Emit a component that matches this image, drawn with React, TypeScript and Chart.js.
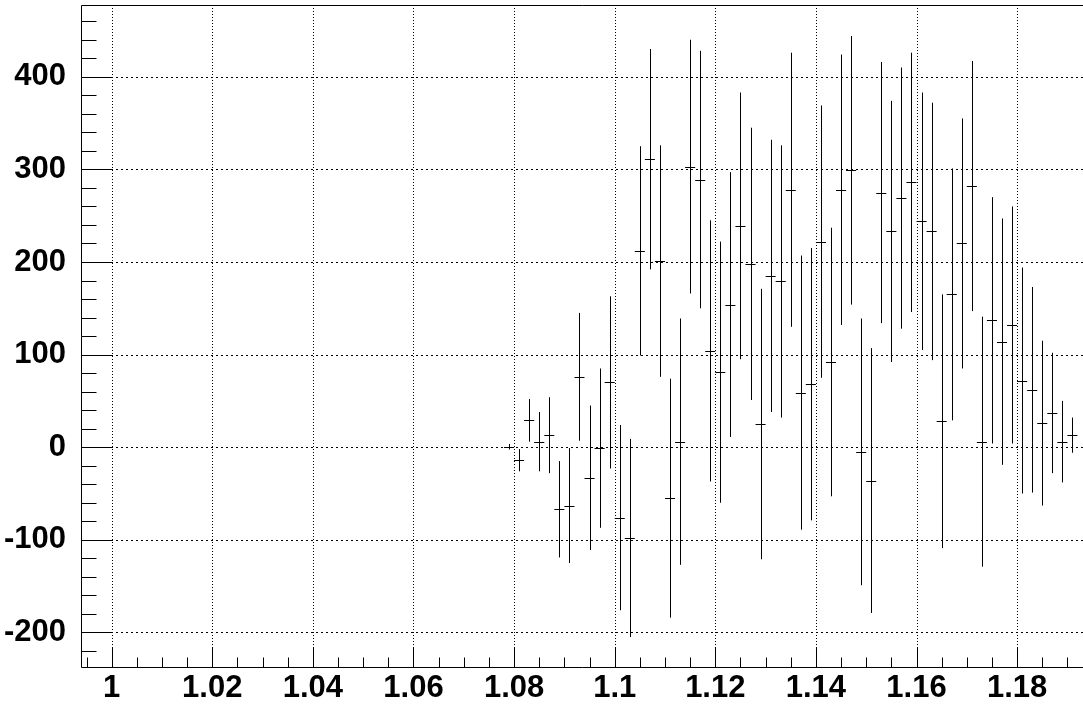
import React, { useEffect, useRef } from "react";
import { Chart, registerables } from "chart.js";

Chart.register(...registerables);

const binCenters = [
  1.079, 1.081, 1.083, 1.085, 1.087, 1.089, 1.091, 1.093, 1.095, 1.097,
  1.099, 1.101, 1.103, 1.105, 1.107, 1.109, 1.111, 1.113, 1.115, 1.117,
  1.119, 1.121, 1.123, 1.125, 1.127, 1.129, 1.131, 1.133, 1.135, 1.137,
  1.139, 1.141, 1.143, 1.145, 1.147, 1.149, 1.151, 1.153, 1.155, 1.157,
  1.159, 1.161, 1.163, 1.165, 1.167, 1.169, 1.171, 1.173, 1.175, 1.177,
  1.179, 1.181, 1.183, 1.185, 1.187, 1.189, 1.191,
];

const counts = [
  0.5, -14, 29, 6, 13, -67, -63, 76, -33, -1,
  70, -76, -98, 212, 311, 201, -55, 6, 303, 289,
  104, 81, 154, 239, 198, 25, 185, 179, 278, 59,
  68, 222, 92, 278, 299, -5, -36, 275, 233, 269,
  286, 244, 233, 28, 165, 220, 282, 6, 137, 114,
  132, 72, 62, 26, 37, 6, 13,
];

const errors = [
  3, 12, 23, 32, 41, 52, 62, 69, 78, 86,
  93, 100, 107, 113, 119, 125, 129, 133, 137, 139,
  141, 141, 143, 144, 147, 146, 147, 147, 148, 148,
  147, 147, 145, 146, 145, 144, 143, 141, 141, 141,
  140, 139, 139, 137, 136, 135, 135, 135, 133, 133,
  128, 122, 111, 89, 65, 44, 19,
];

const binHalfWidth = 0.001;

const xTickValues = [1, 1.02, 1.04, 1.06, 1.08, 1.1, 1.12, 1.14, 1.16, 1.18];
const xTickLabels = ["1", "1.02", "1.04", "1.06", "1.08", "1.1", "1.12", "1.14", "1.16", "1.18"];
const yTickValues = [-200, -100, 0, 100, 200, 300, 400];
const yTickLabels = ["-200", "-100", "0", "100", "200", "300", "400"];

const xMin = 0.9939;
const xMax = 1.1931;
const yMin = -238.4;
const yMax = 477.5;
const xMinorStep = 0.005;
const yMinorStep = 20;

const rootPlugin = {
  id: "rootStyle",
  beforeDatasetsDraw(chart: any) {
    const { ctx, chartArea: a, scales } = chart;
    const x = scales.x;
    const y = scales.y;
    ctx.save();
    ctx.strokeStyle = "#000";
    ctx.lineWidth = 1;
    ctx.setLineDash([1, 2]);
    for (const v of xTickValues) {
      const px = Math.round(x.getPixelForValue(v)) + 0.5;
      ctx.beginPath();
      ctx.moveTo(px, a.top);
      ctx.lineTo(px, a.bottom);
      ctx.stroke();
    }
    ctx.setLineDash([2, 3]);
    for (const v of yTickValues) {
      const py = Math.round(y.getPixelForValue(v)) + 0.5;
      ctx.beginPath();
      ctx.moveTo(a.left, py);
      ctx.lineTo(a.right, py);
      ctx.stroke();
    }
    ctx.restore();
  },
  afterDatasetsDraw(chart: any) {
    const { ctx, chartArea: a, scales } = chart;
    const x = scales.x;
    const y = scales.y;
    ctx.save();
    ctx.strokeStyle = "#000";
    ctx.lineWidth = 1;
    ctx.setLineDash([]);
    for (let i = 0; i < binCenters.length; i++) {
      const c = binCenters[i];
      const px = Math.round(x.getPixelForValue(c)) + 0.5;
      const yc = Math.round(y.getPixelForValue(counts[i])) + 0.5;
      const yt = y.getPixelForValue(counts[i] + errors[i]);
      const yb = y.getPixelForValue(counts[i] - errors[i]);
      ctx.beginPath();
      ctx.moveTo(px, yt);
      ctx.lineTo(px, yb);
      ctx.stroke();
      ctx.beginPath();
      ctx.moveTo(x.getPixelForValue(c - binHalfWidth), yc);
      ctx.lineTo(x.getPixelForValue(c + binHalfWidth), yc);
      ctx.stroke();
    }
    const L = Math.round(a.left) + 0.5;
    const T = Math.round(a.top) + 0.5;
    const B = Math.round(a.bottom) - 0.5;
    ctx.beginPath();
    ctx.moveTo(a.right, T);
    ctx.lineTo(L, T);
    ctx.lineTo(L, B);
    ctx.lineTo(a.right, B);
    ctx.stroke();
    const yMajorLen = 30;
    const yMinorLen = 15;
    const yStart = Math.ceil(yMin / yMinorStep) * yMinorStep;
    for (let v = yStart; v <= yMax; v += yMinorStep) {
      const major = Math.abs(v % 100) < 1e-6;
      const py = Math.round(y.getPixelForValue(v)) + 0.5;
      ctx.beginPath();
      ctx.moveTo(L, py);
      ctx.lineTo(L + (major ? yMajorLen : yMinorLen), py);
      ctx.stroke();
    }
    const xMajorLen = 20;
    const xMinorLen = 10;
    const nStart = Math.ceil(xMin / xMinorStep - 1e-9);
    const nEnd = Math.floor(xMax / xMinorStep + 1e-9);
    for (let n = nStart; n <= nEnd; n++) {
      const v = n * xMinorStep;
      const major = n % 4 === 0;
      const px = Math.round(x.getPixelForValue(v)) + 0.5;
      ctx.beginPath();
      ctx.moveTo(px, B);
      ctx.lineTo(px, B - (major ? xMajorLen : xMinorLen));
      ctx.stroke();
    }
    ctx.restore();
  },
};

export default function App() {
  const canvasRef = useRef<HTMLCanvasElement | null>(null);

  useEffect(() => {
    const canvas = canvasRef.current;
    if (!canvas) return;
    const font = { family: "'Liberation Sans', Arial, sans-serif", weight: "bold" as const, size: 31 };
    const chart = new Chart(canvas, {
      type: "scatter",
      data: {
        datasets: [
          {
            data: binCenters.map((c, i) => ({ x: c, y: counts[i] })),
            pointRadius: 0,
            showLine: false,
          },
        ],
      },
      options: {
        animation: false,
        responsive: false,
        devicePixelRatio: 1,
        layout: { padding: { top: 5, right: 0, left: 0, bottom: 0 } },
        plugins: { legend: { display: false }, tooltip: { enabled: false } },
        scales: {
          x: {
            type: "linear",
            min: xMin,
            max: xMax,
            grid: { display: false, drawTicks: false },
            border: { display: false },
            afterBuildTicks: (s: any) => {
              s.ticks = xTickValues.map((v) => ({ value: v }));
            },
            afterFit: (s: any) => {
              s.height = 40;
              s.paddingLeft = 0;
              s.paddingRight = 0;
            },
            ticks: {
              color: "#000",
              font,
              padding: 2,
              maxRotation: 0,
              minRotation: 0,
              autoSkip: false,
              callback: (_v: any, idx: number) => xTickLabels[idx],
            },
          },
          y: {
            type: "linear",
            min: yMin,
            max: yMax,
            grid: { display: false, drawTicks: false },
            border: { display: false },
            afterBuildTicks: (s: any) => {
              s.ticks = yTickValues.map((v) => ({ value: v }));
            },
            afterFit: (s: any) => {
              s.width = 81;
              s.paddingTop = 0;
              s.paddingBottom = 0;
            },
            ticks: {
              color: "#000",
              font,
              padding: 15,
              autoSkip: false,
              callback: (_v: any, idx: number) => yTickLabels[idx],
            },
          },
        },
      },
      plugins: [rootPlugin],
    });
    return () => chart.destroy();
  }, []);

  return (
    <canvas
      ref={canvasRef}
      width={1083}
      height={708}
      style={{ position: "absolute", left: 0, top: 0, width: 1083, height: 708, background: "#fff" }}
    />
  );
}
